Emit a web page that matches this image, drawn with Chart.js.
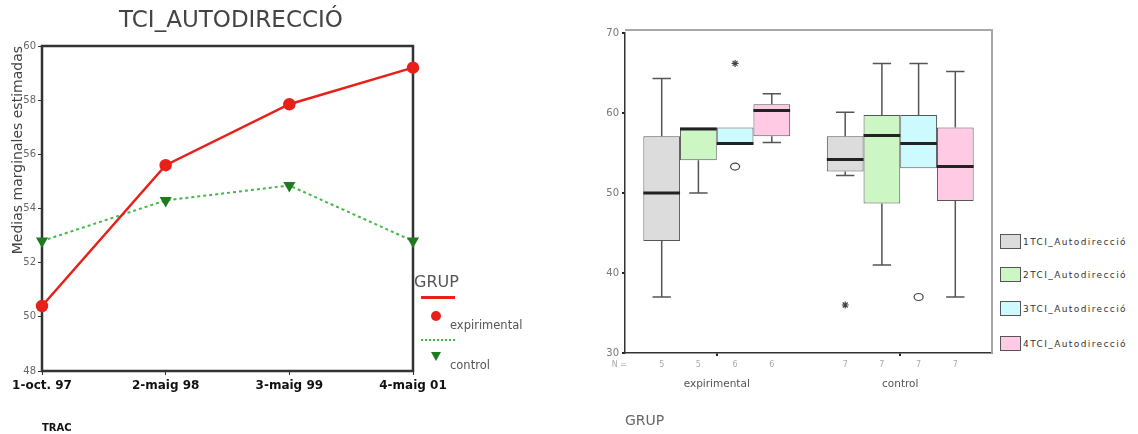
<!DOCTYPE html>
<html>
<head>
<meta charset="utf-8">
<title>TCI_AUTODIRECCIÓ</title>
<script src="https://cdn.jsdelivr.net/npm/chart.js@4.4.1/dist/chart.umd.min.js"></script>
<style>
  body { margin: 0; background: #fff; font-family: 'DejaVu Sans', Arial, sans-serif; }
  #page { position: relative; width: 1138px; height: 434px; overflow: hidden; }
  canvas { position: absolute; top: 0; }
  .lbl { position: absolute; white-space: nowrap; line-height: 1; }
  .swatch { position: absolute; box-sizing: border-box; border: 1px solid #555; }
  #trendTitle { position: absolute; left: 0; width: 462px; top: 8px; text-align: center; font-size: 23px; color: #444; line-height: 1; }
</style>
</head>
<body>
<div id="page">
  <canvas id="trendChart" width="458" height="434" style="left:0"></canvas>
  <canvas id="boxChart" width="436" height="434" style="left:560px"></canvas>

  <div id="trendTitle">TCI_AUTODIRECCIÓ</div>

  <!-- GRUP legend for the line chart -->
  <div class="lbl" style="left:414px;top:274px;font-size:16px;color:#555">GRUP</div>
  <div style="position:absolute;left:421px;top:296px;width:34px;border-top:3px solid #e8201a"></div>
  <div style="position:absolute;left:431px;top:311px;width:10px;height:10px;border-radius:50%;background:#e8201a"></div>
  <div class="lbl" style="left:450px;top:320px;font-size:11.5px;color:#555">expirimental</div>
  <div style="position:absolute;left:421px;top:339px;width:34px;border-top:2px dotted #44b844"></div>
  <div style="position:absolute;left:431px;top:352px;width:0;height:0;border-left:5px solid transparent;border-right:5px solid transparent;border-top:9px solid #1f7a1f"></div>
  <div class="lbl" style="left:450px;top:360px;font-size:11.5px;color:#555">control</div>

  <div id="boxLegend"></div>
</div>

<script>
const FONT = "'DejaVu Sans', Arial, sans-serif";
Chart.defaults.font.family = FONT;

// Estimated marginal means per measurement (TRAC)
const tracLabels = ['1-oct. 97', '2-maig 98', '3-maig 99', '4-maig 01'];
const expirimentalMeans = [50.4, 55.6, 57.85, 59.2];
const controlMeans = [52.8, 54.3, 54.85, 52.8];

// Box plot summary per series, values given as [expirimental, control]
const groupLabels = ['expirimental', 'control'];
const seriesNames = ['1TCI_Autodirecció', '2TCI_Autodirecció', '3TCI_Autodirecció', '4TCI_Autodirecció'];
const boxColors = ['#dcdcdc', '#ccf7c4', '#ccfaff', '#ffcbe4'];
const lowValues = [[37, 52.2], [50, 41], [56, 53.1], [56.3, 37]];
const q1Values = [[44, 52.7], [54.1, 48.7], [56, 53.1], [57.1, 49]];
const medianValues = [[50, 54.2], [58, 57.2], [56.2, 56.2], [60.3, 53.3]];
const q3Values = [[57.1, 57.1], [58.2, 59.75], [58.2, 59.75], [61.1, 58.2]];
const highValues = [[64.3, 60.1], [58.2, 66.2], [58.2, 66.2], [62.4, 65.2]];
const countValues = [['5', '7'], ['5', '7'], ['6', '7'], ['6', '7']];

// Outliers: series index, group index, value, marker
const outlierSeries = [2, 2, 0, 2];
const outlierGroup = [0, 0, 1, 1];
const outlierValues = [66.2, 53.3, 36, 37];
const outlierMarks = ['star', 'circle', 'star', 'circle'];

// dark frame around the line chart plot area
const plotFrame = {
  id: 'plotFrame',
  beforeDatasetsDraw(chart) {
    const { ctx, chartArea: a } = chart;
    ctx.save();
    ctx.strokeStyle = '#333';
    ctx.lineWidth = 2.5;
    ctx.strokeRect(a.left, a.top, a.right - a.left, a.bottom - a.top);
    ctx.restore();
  }
};

new Chart(document.getElementById('trendChart'), {
  type: 'line',
  data: {
    labels: tracLabels,
    datasets: [
      {
        label: 'expirimental',
        data: expirimentalMeans,
        borderColor: '#e8201a',
        backgroundColor: '#e8201a',
        borderWidth: 2.5,
        pointStyle: 'circle',
        pointRadius: 5,
        tension: 0
      },
      {
        label: 'control',
        data: controlMeans,
        borderColor: '#44b844',
        borderWidth: 2,
        borderDash: [3, 3],
        pointStyle: 'triangle',
        pointRotation: 180,
        pointRadius: 5,
        pointBackgroundColor: '#1f7a1f',
        pointBorderColor: '#1f7a1f',
        tension: 0
      }
    ]
  },
  options: {
    responsive: false,
    animation: false,
    layout: { padding: { left: 10, right: 45, top: 46, bottom: 0 } },
    plugins: {
      legend: { display: false },
      tooltip: { enabled: false }
    },
    scales: {
      x: {
        offset: false,
        grid: { display: true, drawOnChartArea: false, tickLength: 4, color: '#333' },
        border: { color: '#333', width: 2 },
        ticks: { color: '#111', font: { size: 12, weight: 'bold' }, padding: 4, maxRotation: 0, autoSkip: false },
        title: { display: true, text: 'TRAC', align: 'start', color: '#111', font: { size: 10, weight: 'bold' }, padding: 0 },
        afterFit: s => { s.height = 63; }
      },
      y: {
        min: 48,
        max: 60,
        ticks: { stepSize: 2, color: '#666', font: { size: 10 }, padding: 2 },
        grid: { display: true, drawOnChartArea: false, tickLength: 4, color: '#333' },
        border: { color: '#333', width: 2 },
        title: { display: true, text: 'Medias marginales estimadas', align: 'end', color: '#444', font: { size: 14 }, padding: 0 },
        afterFit: s => { s.width = 32; }
      }
    }
  },
  plugins: [plotFrame]
});

// whiskers, medians, outliers and case counts for the box plot
const boxExtras = {
  id: 'boxExtras',
  beforeDatasetsDraw(chart) {
    const { ctx, chartArea: a } = chart;
    ctx.save();
    ctx.strokeStyle = '#a8a8a8';
    ctx.lineWidth = 2;
    ctx.beginPath();
    ctx.moveTo(a.left, a.top - 3);
    ctx.lineTo(a.right, a.top - 3);
    ctx.lineTo(a.right, a.bottom);
    ctx.stroke();
    ctx.restore();
  },
  afterDatasetsDraw(chart) {
    const { ctx, chartArea: a } = chart;
    const y = chart.scales.y;
    ctx.save();
    chart.data.datasets.forEach((ds, i) => {
      chart.getDatasetMeta(i).data.forEach((bar, j) => {
        const x = bar.x;
        const w = bar.width;
        const cap = w * 0.25;
        const yLow = y.getPixelForValue(lowValues[i][j]);
        const yQ1 = y.getPixelForValue(q1Values[i][j]);
        const yQ3 = y.getPixelForValue(q3Values[i][j]);
        const yHigh = y.getPixelForValue(highValues[i][j]);
        const yMed = y.getPixelForValue(medianValues[i][j]);

        ctx.strokeStyle = '#555';
        ctx.lineWidth = 1.5;
        ctx.beginPath();
        if (yHigh < yQ3 - 1) {
          ctx.moveTo(x, yQ3); ctx.lineTo(x, yHigh);
          ctx.moveTo(x - cap, yHigh); ctx.lineTo(x + cap, yHigh);
        }
        if (yLow > yQ1 + 1) {
          ctx.moveTo(x, yQ1); ctx.lineTo(x, yLow);
          ctx.moveTo(x - cap, yLow); ctx.lineTo(x + cap, yLow);
        }
        ctx.stroke();

        ctx.strokeStyle = '#222';
        ctx.lineWidth = 3;
        ctx.beginPath();
        ctx.moveTo(x - w / 2, yMed);
        ctx.lineTo(x + w / 2, yMed);
        ctx.stroke();

        ctx.fillStyle = '#aaa';
        ctx.font = '8px ' + FONT;
        ctx.textAlign = 'center';
        ctx.textBaseline = 'middle';
        ctx.fillText(countValues[i][j], x, a.bottom + 12);
      });
    });

    ctx.fillStyle = '#aaa';
    ctx.font = '8px ' + FONT;
    ctx.textAlign = 'right';
    ctx.fillText('N =', a.left + 2, a.bottom + 12);

    outlierValues.forEach((v, k) => {
      const bar = chart.getDatasetMeta(outlierSeries[k]).data[outlierGroup[k]];
      const py = y.getPixelForValue(v);
      ctx.strokeStyle = '#444';
      ctx.fillStyle = '#444';
      ctx.lineWidth = 1.2;
      if (outlierMarks[k] === 'circle') {
        ctx.beginPath();
        ctx.ellipse(bar.x, py, 4.5, 3.5, 0, 0, Math.PI * 2);
        ctx.stroke();
      } else {
        Chart.helpers.drawPoint(ctx, { pointStyle: 'star', radius: 3.5, borderWidth: 1.5 }, bar.x, py);
      }
    });
    ctx.restore();
  }
};

new Chart(document.getElementById('boxChart'), {
  type: 'bar',
  data: {
    labels: groupLabels,
    datasets: seriesNames.map((name, i) => ({
      label: name,
      data: q1Values[i].map((q1, j) => [q1, q3Values[i][j]]),
      backgroundColor: boxColors[i],
      borderColor: '#555',
      borderWidth: 1,
      borderSkipped: false,
      barPercentage: 1,
      categoryPercentage: 0.8
    }))
  },
  options: {
    responsive: false,
    animation: false,
    layout: { padding: { left: 15, right: 4, top: 33, bottom: 0 } },
    plugins: { legend: { display: false }, tooltip: { enabled: false } },
    scales: {
      x: {
        grid: { display: true, offset: false, drawOnChartArea: false, tickLength: 3, color: '#222', lineWidth: 2 },
        border: { color: '#333', width: 1.5 },
        ticks: { color: '#555', font: { size: 10.5 }, padding: 22 },
        title: { display: true, text: 'GRUP', align: 'start', color: '#666', font: { size: 14 }, padding: { top: 0, bottom: 4 } },
        afterFit: s => { s.height = 81; }
      },
      y: {
        min: 30,
        max: 70,
        ticks: { stepSize: 10, color: '#777', font: { size: 10 }, padding: 3 },
        grid: { display: true, drawOnChartArea: false, tickLength: 3, color: '#222', lineWidth: 2 },
        border: { color: '#333', width: 1.5 },
        afterFit: s => { s.width = 50; }
      }
    }
  },
  plugins: [boxExtras]
});

// series legend beside the box plot
const legendTops = [234, 267, 301, 336];
const boxLegend = document.getElementById('boxLegend');
seriesNames.forEach((name, i) => {
  const sw = document.createElement('div');
  sw.className = 'swatch';
  sw.style.cssText = `left:1000px;top:${legendTops[i]}px;width:21px;height:15px;background:${boxColors[i]}`;
  const tx = document.createElement('div');
  tx.className = 'lbl';
  tx.style.cssText = `left:1023px;top:${legendTops[i] + 4}px;font-size:9px;letter-spacing:1.4px;color:#333`;
  tx.textContent = name;
  boxLegend.appendChild(sw);
  boxLegend.appendChild(tx);
});
</script>
</body>
</html>
